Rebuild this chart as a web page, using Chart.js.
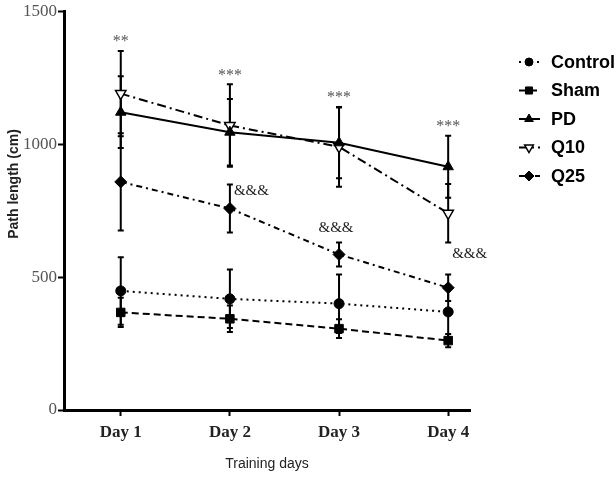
<!DOCTYPE html>
<html>
<head>
<meta charset="utf-8">
<script src="https://cdn.jsdelivr.net/npm/chart.js@4/dist/chart.umd.min.js"></script>
<style>
  html, body { margin: 0; padding: 0; background: #fff; }
  #wrap { width: 616px; height: 483px; }
</style>
</head>
<body>
<div id="wrap"><canvas id="grafico"></canvas></div>
<script>
// valores
const dias = ['Day 1', 'Day 2', 'Day 3', 'Day 4'];

const control = [448, 418, 400, 369];
const controlSd = [127, 110, 110, 100];
const sham = [367, 343, 306, 261];
const shamSd = [55, 50, 35, 25];
const pd = [1120, 1045, 1005, 915];
const pdSd = [135, 125, 133, 117];
const q10 = [1190, 1070, 990, 740];
const q10Sd = [160, 155, 150, 110];
const q25 = [858, 758, 585, 460];
const q25Sd = [183, 90, 45, 50];

const marcasPd = ['**', '***', '***', '***'];
const marcasQ25 = ['', '&&&', '&&&', '&&&'];

const yTicks = [0, 500, 1000, 1500];
const tituloY = 'Path length (cm)';

const puntos = arr => arr.map((v, i) => ({ x: i + 1, y: v }));

function serie(label, data, sd, estilo) {
  return Object.assign({
    label,
    data: puntos(data),
    sd,
    borderColor: '#000',
    backgroundColor: '#000',
    pointBorderColor: '#000',
    pointBackgroundColor: '#000',
    borderWidth: 2,
    pointRadius: 5,
    pointBorderWidth: 1,
    tension: 0,
    fill: false
  }, estilo);
}

const datasets = [
  serie('Control', control, controlSd, { borderDash: [2, 4], pointStyle: 'circle' }),
  serie('Sham', sham, shamSd, { borderDash: [7, 4], pointStyle: 'rect', pointRadius: 6 }),
  serie('PD', pd, pdSd, { pointStyle: 'triangle', pointRadius: 6 }),
  serie('Q10', q10, q10Sd, {
    borderDash: [9, 4, 2, 4], pointStyle: 'triangle', pointRotation: 180,
    pointRadius: 6, pointBackgroundColor: '#fff', pointBorderWidth: 1.5
  }),
  serie('Q25', q25, q25Sd, { borderDash: [6, 4, 2, 4], pointStyle: 'rectRot', pointRadius: 6 })
];

// barras de error + marcas de significancia
const barrasError = {
  id: 'barrasError',
  beforeDatasetsDraw(chart) {
    const { ctx, scales: { x, y } } = chart;
    ctx.save();
    ctx.strokeStyle = '#000';
    ctx.lineWidth = 2;
    chart.data.datasets.forEach(ds => {
      ds.data.forEach((p, i) => {
        const px = x.getPixelForValue(p.x);
        const top = y.getPixelForValue(p.y + ds.sd[i]);
        const bot = y.getPixelForValue(p.y - ds.sd[i]);
        ctx.beginPath();
        ctx.moveTo(px, top); ctx.lineTo(px, bot);
        ctx.moveTo(px - 3, top); ctx.lineTo(px + 3, top);
        ctx.moveTo(px - 3, bot); ctx.lineTo(px + 3, bot);
        ctx.stroke();
      });
    });
    ctx.restore();
  },
  afterDatasetsDraw(chart) {
    const { ctx, scales: { x, y } } = chart;
    ctx.save();
    ctx.textAlign = 'center';
    ctx.textBaseline = 'middle';
    ctx.fillStyle = '#555';
    ctx.font = '16px "Liberation Serif"';
    dias.forEach((d, i) => {
      const alto = Math.max(pd[i] + pdSd[i], q10[i] + q10Sd[i]);
      ctx.fillText(marcasPd[i], x.getPixelForValue(i + 1), y.getPixelForValue(alto) - 9);
    });
    ctx.fillStyle = '#222';
    ctx.font = '15px "Liberation Serif"';
    dias.forEach((d, i) => {
      if (!marcasQ25[i]) return;
      const px = x.getPixelForValue(i + 1);
      const top = y.getPixelForValue(q25[i] + q25Sd[i]);
      if (i === 2) {
        ctx.textAlign = 'center';
        ctx.fillText(marcasQ25[i], px - 3, top - 14);
      } else {
        ctx.textAlign = 'left';
        ctx.fillText(marcasQ25[i], px + 4, top + (i === 1 ? 7 : -20));
      }
    });
    ctx.restore();
  }
};

// leyenda a la derecha con trazo + marcador, y titulo del eje y
const leyenda = {
  id: 'leyenda',
  afterDraw(chart) {
    const { ctx } = chart;
    ctx.save();
    chart.data.datasets.forEach((ds, i) => {
      const yy = 62 + i * 28.5;
      ctx.strokeStyle = '#000';
      ctx.lineWidth = 2;
      ctx.setLineDash(ds.borderDash || []);
      ctx.beginPath();
      ctx.moveTo(519, yy); ctx.lineTo(540, yy);
      ctx.stroke();
      ctx.setLineDash([]);
      ctx.fillStyle = ds.pointBackgroundColor;
      ctx.lineWidth = ds.pointBorderWidth;
      Chart.helpers.drawPoint(ctx, {
        pointStyle: ds.pointStyle,
        rotation: ds.pointRotation || 0,
        radius: ds.pointRadius - 1,
        borderWidth: ds.pointBorderWidth
      }, 529, yy);
      ctx.fillStyle = '#000';
      ctx.font = 'bold 18px "Liberation Sans"';
      ctx.textAlign = 'left';
      ctx.textBaseline = 'middle';
      ctx.fillText(ds.label, 551, yy + 1);
    });

    ctx.translate(14, 184);
    ctx.rotate(-Math.PI / 2);
    ctx.fillStyle = '#222';
    ctx.font = 'bold 14px "Liberation Sans"';
    ctx.textAlign = 'center';
    ctx.textBaseline = 'middle';
    ctx.fillText(tituloY, 0, 0);
    ctx.restore();
  }
};

new Chart(document.getElementById('grafico'), {
  type: 'line',
  data: { datasets },
  plugins: [barrasError, leyenda],
  options: {
    responsive: true,
    maintainAspectRatio: false,
    animation: false,
    layout: { padding: { top: 8, right: 146, left: 0, bottom: 0 } },
    plugins: { legend: { display: false }, tooltip: { enabled: false } },
    scales: {
      x: {
        type: 'linear',
        min: 0.48,
        max: 4.2,
        afterFit: s => { s.height = 73; },
        afterBuildTicks: s => { s.ticks = dias.map((d, i) => ({ value: i + 1 })); },
        border: { color: '#000', width: 3 },
        grid: { drawOnChartArea: false, tickLength: 6, tickWidth: 2, tickColor: '#000' },
        ticks: {
          color: '#222',
          padding: 6,
          maxRotation: 0,
          font: { family: '"Liberation Serif"', size: 17, weight: 'bold' },
          callback: v => dias[v - 1]
        },
        title: {
          display: true,
          text: 'Training days',
          color: '#222',
          padding: { top: 0, bottom: 10 },
          font: { family: '"Liberation Sans"', size: 14 }
        }
      },
      y: {
        min: 0,
        max: 1500,
        afterFit: s => { s.width = 64; },
        afterBuildTicks: s => { s.ticks = yTicks.map(v => ({ value: v })); },
        border: { color: '#000', width: 3 },
        grid: { drawOnChartArea: false, tickLength: 6, tickWidth: 2, tickColor: '#000' },
        ticks: {
          color: '#555',
          padding: 1,
          font: { family: '"Liberation Serif"', size: 17 },
          callback: v => String(v)
        }
      }
    }
  }
});
</script>
</body>
</html>
